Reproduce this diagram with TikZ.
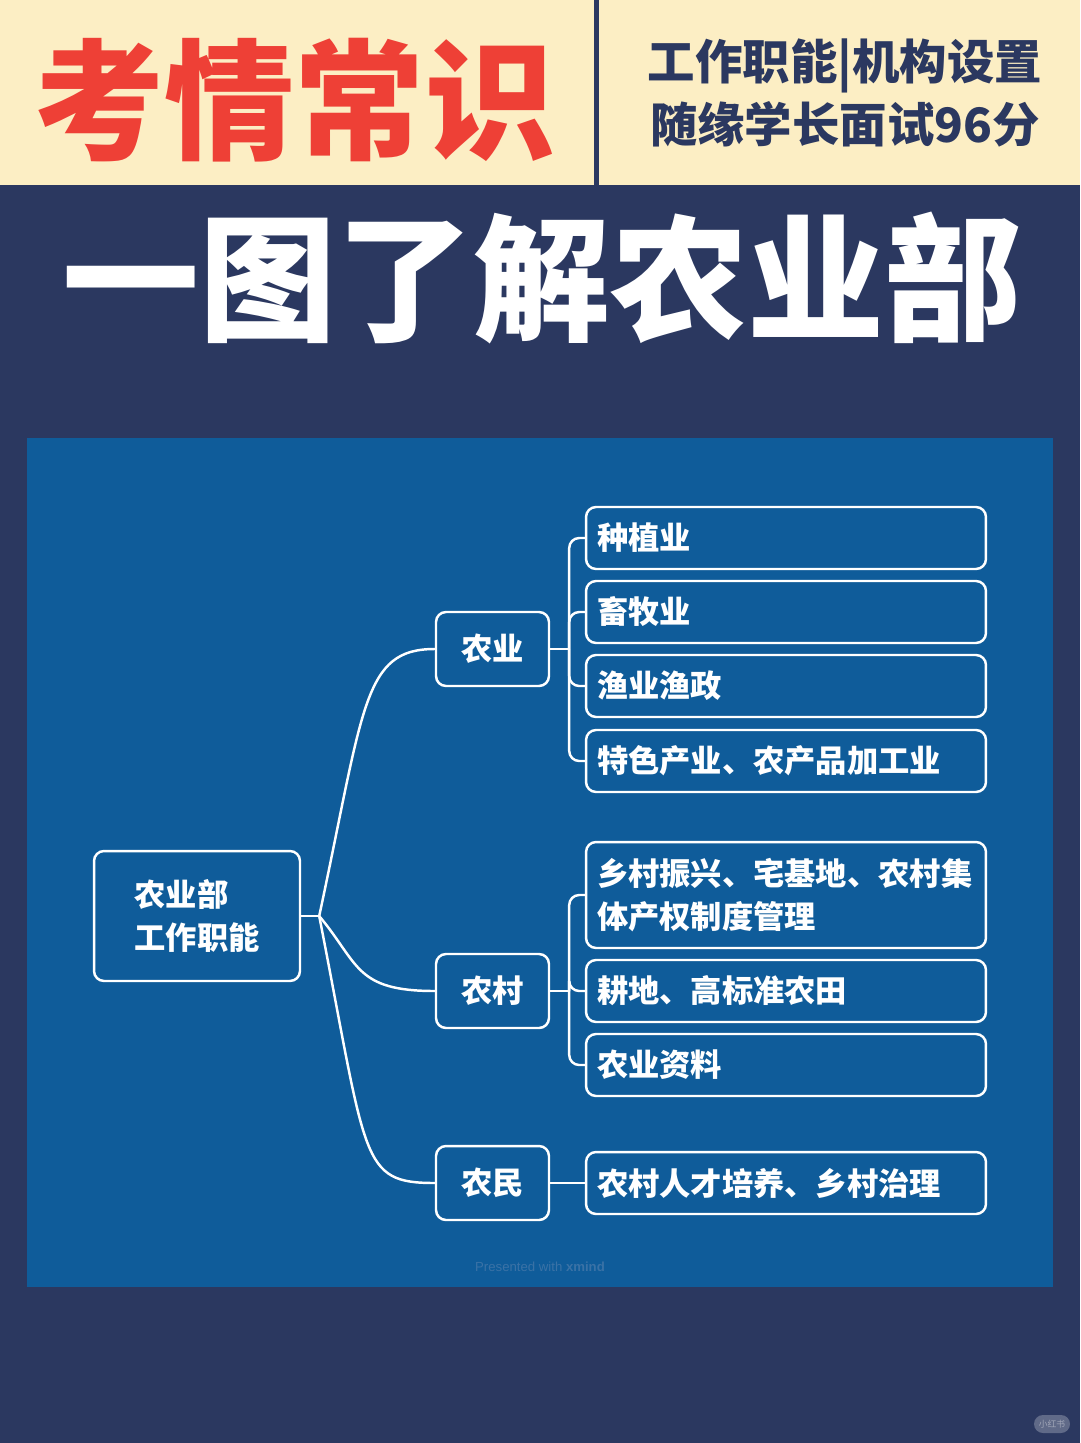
\documentclass[tikz,border=0pt]{standalone}
\usepackage{fontspec}
\setmainfont{Noto Sans CJK SC}
\newfontfamily\cjkheavy{Noto Sans CJK SC Black}
\newfontfamily\latinsans{Liberation Sans}
\usetikzlibrary{positioning,calc}
\definecolor{xqNavy}{HTML}{2B3860}
\definecolor{xqCream}{HTML}{FCEEC4}
\definecolor{xqRed}{HTML}{EE4036}
\definecolor{xqPanel}{HTML}{0F5C9A}
\definecolor{xqMark}{HTML}{3A72A6}
\tikzset{
  box/.style       ={draw=white,line width=1.4pt,rounded corners=0.2cm,text=white,
                     font=\fontsize{17.8}{24.5}\selectfont\bfseries},
  rootbox/.style   ={box,minimum width=4.12cm,minimum height=2.6cm,align=left,inner sep=0pt},
  topicbox/.style  ={box,minimum width=2.26cm,minimum height=1.48cm,inner sep=0pt},
  leafbox/.style   ={box,minimum width=8cm,minimum height=1.24cm,text width=7.56cm,
                     inner xsep=0.22cm,inner ysep=0pt,align=left},
  link/.style      ={white,line width=1.4pt},
  bracket/.style   ={link,rounded corners=0.2cm},
  headred/.style   ={font=\cjkheavy\fontsize{74}{74}\selectfont,text=xqRed,inner sep=0pt},
  headnote/.style  ={font=\fontsize{27}{36}\selectfont\bfseries,text=xqNavy,align=center,inner sep=0pt},
  bigtitle/.style  ={font=\cjkheavy\fontsize{78}{78}\selectfont,text=white,inner sep=0pt},
}

\begin{document}
\begin{tikzpicture}[x=0.02cm,y=-0.02cm]
% ── background and header ─────────────────────────────────────────────────
\fill[xqNavy] (0,0) rectangle (1080,1443);
\useasboundingbox (0,0) rectangle (1080,1443);
\fill[xqCream] (0,0) rectangle (1080,185);
\fill[xqNavy] (594,0) rectangle (599,185);
\node[headred] (kq) at (295,100) {考情常识};
\node[headnote] (sub) at (845,93) {工作职能|机构设置\\随缘学长面试96分};
\node[bigtitle] (title) at (542,278) {一图了解农业部};

% ── mind map panel ────────────────────────────────────────────────────────
\fill[xqPanel] (27,438) rectangle (1053,1287);
\node[rootbox] (root) at (197,916) {农业部\\工作职能};
\node[topicbox] (ny) at (492.5,649)  {农业};
\node[topicbox] (nc) at (492.5,991)  {农村};
\node[topicbox] (nm) at (492.5,1183) {农民};

\node[leafbox] (ny1) at (786,538) {种植业};
\node[leafbox] (ny2) at (786,612) {畜牧业};
\node[leafbox] (ny3) at (786,686) {渔业渔政};
\node[leafbox] (ny4) at (786,761) {特色产业、农产品加工业};
\node[leafbox,minimum height=2.12cm] (nc1) at (786,895) {乡村振兴、宅基地、农村集\\体产权制度管理};
\node[leafbox] (nc2) at (786,991)  {耕地、高标准农田};
\node[leafbox] (nc3) at (786,1065) {农业资料};
\node[leafbox] (nm1) at (786,1183) {农村人才培养、乡村治理};

% ── connectors ────────────────────────────────────────────────────────────
\draw[link] (root.east) -- ++(18,0) coordinate (rj);
\draw[link] (rj) .. controls +(45,-210) and +(-72,0) .. (ny.west);
\draw[link] (rj) .. controls +(40,48) and +(-80,0) .. (nc.west);
\draw[link] (rj) .. controls +(48,245) and +(-75,0) .. (nm.west);

\draw[link] (ny.east) -- ++(19,0) coordinate (nyj);
\foreach \l in {ny1,ny2,ny3,ny4} \draw[bracket] (nyj) |- (\l.west);
\draw[link] (nc.east) -- ++(19,0) coordinate (ncj);
\foreach \l in {nc1,nc2,nc3} \draw[bracket] (ncj) |- (\l.west);
\draw[link] (nm.east) -- (nm1.west);

% ── marks ─────────────────────────────────────────────────────────────────
\node[font=\latinsans\fontsize{7.5}{8}\selectfont,text=xqMark] (xm) at (540,1267)
  {Presented with \textbf{xmind}};
\node[fill=xqNavy!75!white,rounded corners=0.18cm,minimum width=0.72cm,minimum height=0.36cm,
      inner sep=0pt,font=\fontsize{5}{5}\selectfont,text=white!55!xqNavy] (xhs) at (1052,1424) {小红书};
\end{tikzpicture}
\end{document}
